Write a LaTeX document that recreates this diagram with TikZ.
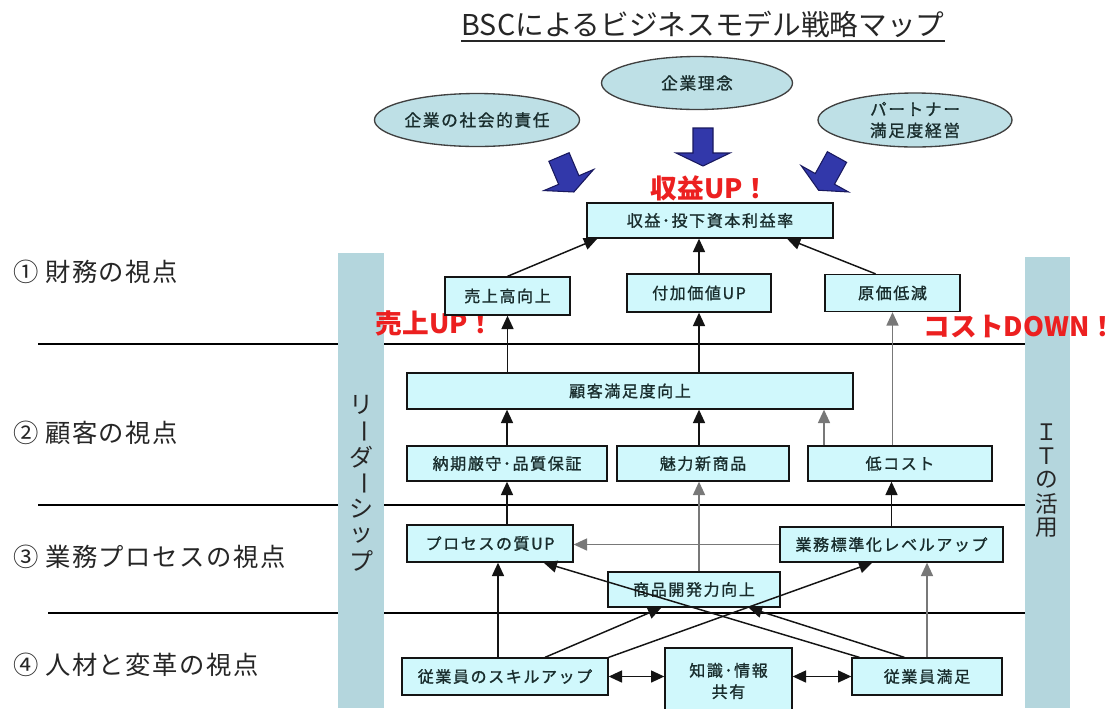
\documentclass[tikz,border=0pt]{standalone}
\usepackage{fontspec}
\setmainfont{Noto Sans CJK JP}
\newfontfamily\jpbox[LetterSpace=10,FakeBold=1.2]{Noto Sans CJK JP}
\newfontfamily\jplab[LetterSpace=6]{Noto Sans CJK JP}
\usetikzlibrary{arrows.meta,calc,shapes.geometric}
\definecolor{boxfill}{RGB}{208,248,252}
\definecolor{bandc}{RGB}{180,214,221}
\definecolor{ellfill}{RGB}{190,224,230}
\definecolor{redlab}{RGB}{236,32,32}
\definecolor{blk}{RGB}{20,20,20}
\definecolor{txt}{RGB}{25,45,45}
\definecolor{grayarr}{RGB}{120,120,120}
\definecolor{arrowblue}{RGB}{50,56,170}
\definecolor{arrowdark}{RGB}{25,25,95}
\begin{document}
\begin{tikzpicture}[x=0.75pt,y=-0.75pt,
  bx/.style 2 args={draw=blk, fill=boxfill, line width=1pt, minimum width=#1*0.75pt,
    minimum height=#2*0.75pt, inner sep=0pt, align=center, text=txt,
    font=\jpbox\fontsize{12}{16}\selectfont},
  ellnode/.style 2 args={ellipse, draw=black!75, fill=ellfill, line width=1pt,
    minimum width=#1*0.75pt, minimum height=#2*0.75pt, inner sep=0pt, align=center,
    text=txt, font=\jpbox\fontsize{12.5}{16}\selectfont},
  tip/.style={Triangle[length=10pt,width=9pt]},
  arr/.style={-{Triangle[length=10pt,width=9pt]}, draw=blk, line width=1.1pt},
  garr/.style={arr, draw=grayarr},
  dbl/.style={{Triangle[length=10pt,width=9pt]}-{Triangle[length=10pt,width=9pt]}, draw=blk, line width=1.1pt},
  redl/.style={text=redlab, inner sep=0pt, font=\bfseries\fontsize{20}{22}\selectfont},
  persp/.style={anchor=west, inner sep=0pt, text=black!85, font=\jplab\fontsize{19}{22}\selectfont},
  vch/.style={inner sep=0pt, text=black!85, font=\fontsize{18}{18}\selectfont},
  sectline/.style={draw=black, line width=1.2pt},
  band/.style={fill=bandc, draw=none},
  blockarrow/.style={fill=arrowblue, draw=arrowdark, line width=0.8pt}
]
\useasboundingbox (0,0) rectangle (1116,708);
\fill[white] (0,0) rectangle (1116,708);

% title
\node[inner sep=0pt, text=black!85, font=\fontsize{21.5}{24}\selectfont] (title) at (703,24) {BSCによるビジネスモデル戦略マップ};
\coordinate (ul) at (0,41);
\draw[line width=1.1pt, black!85] (title.west |- ul) -- (title.east |- ul);

% section lines
\draw[sectline] (38,344) -- (1025,344);
\draw[sectline] (38,505) -- (1025,505);
\draw[sectline] (48,613) -- (1025,613);

% bands
\fill[band] (338,253) rectangle (384,708);
\fill[band] (1025,257) rectangle (1070,708);
\foreach \c [count=\i from 0] in {リ,{\rotatebox[origin=c]{-90}{ー}},ダ,{\rotatebox[origin=c]{-90}{ー}},シ,ッ,プ}
  \node[vch] (lead\i) at (361,405+26*\i) {\c};
\foreach \c [count=\i from 0] in {Ｉ,Ｔ,の,活,用}
  \node[vch, font=\fontsize{17}{17}\selectfont] (it\i) at (1047,432+24*\i) {\c};

% perspective labels
\node[persp] (p1) at (13,272) {①\hspace{5pt}財務の視点};
\node[persp] (p2) at (13,433) {②\hspace{5pt}顧客の視点};
\node[persp] (p3) at (13,557) {③\hspace{5pt}業務プロセスの視点};
\node[persp] (p4) at (13,665) {④\hspace{5pt}人材と変革の視点};

% ellipses
\node[ellnode={192}{53}] (e1) at (477,120) {企業の社会的責任};
\node[ellnode={191}{53}] (e2) at (697,83) {企業理念};
\node[ellnode={194}{54}] (e3) at (915,120) {パートナー\\満足度経営};

% block arrows
\begin{scope}[shift={(703,128)}]
  \filldraw[blockarrow] (-10,0) -- (10,0) -- (10,25) -- (27,25) -- (0,38) -- (-27,25) -- (-10,25) -- cycle;
\end{scope}
\begin{scope}[shift={(559,157)},rotate=23]
  \filldraw[blockarrow] (-11,0) -- (11,0) -- (11,25) -- (27,25) -- (0,38) -- (-27,25) -- (-11,25) -- cycle;
\end{scope}
\begin{scope}[shift={(837,157)},rotate=-29]
  \filldraw[blockarrow] (-11,0) -- (11,0) -- (11,25) -- (27,25) -- (0,38) -- (-27,25) -- (-11,25) -- cycle;
\end{scope}

% red labels
\node[redl] (r1) at (710,188) {収益UP！};
\node[redl] (r2) at (435,323) {売上UP！};
\node[redl] (r3) at (1020,327) {コストDOWN！};

% boxes
\node[bx={246}{35}] (roi) at (710,220.5) {収益･投下資本利益率};
\node[bx={125}{38}] (sales) at (507.5,296) {売上高向上};
\node[bx={144}{38}] (value) at (699,293) {付加価値UP};
\node[bx={135}{37}] (cost) at (892.5,293) {原価低減};
\node[bx={446}{36}] (cs) at (630,391) {顧客満足度向上};
\node[bx={200}{35}] (deliv) at (507,463.5) {納期厳守･品質保証};
\node[bx={172}{35}] (attr) at (703,463.5) {魅力新商品};
\node[bx={184}{35}] (lowc) at (900,463.5) {低コスト};
\node[bx={166}{37}] (procq) at (490,543.5) {プロセスの質UP};
\node[bx={223}{35}] (std) at (891.5,544.5) {業務標準化レベルアップ};
\node[bx={172}{35}] (dev) at (694,589.5) {商品開発力向上};
\node[bx={206}{37}] (skill) at (505,676.5) {従業員のスキルアップ};
\node[bx={127}{66}] (know) at (728.5,681) {知識･情報\\共有};
\node[bx={150}{37}] (sat) at (927,676.5) {従業員満足};

% connectors: financial
\draw[arr] (sales.north) -- ($(roi.south west)+(11,0)$);
\draw[arr] (value.north) -- (value.north |- roi.south);
\draw[arr] ($(cost.north)+(-17,0)$) -- ($(roi.south)+(77,0)$);
% customer -> financial
\draw[arr] (sales.south |- cs.north) -- (sales.south);
\draw[arr] (value.south |- cs.north) -- (value.south);
\draw[garr] (cost.south |- lowc.north) -- (cost.south);
% customer
\draw[arr] (deliv.north) -- (deliv.north |- cs.south);
\draw[arr] (value |- attr.north) -- (value |- cs.south);
\draw[garr] ($(lowc.north)+(-76,0)$) -- ($(lowc.north |- cs.south)+(-76,0)$);
% process -> customer
\draw[arr] (deliv.south |- procq.north) -- (deliv.south);
\draw[garr] (value |- dev.north) -- (value |- attr.south);
\draw[arr] (std.north) -- (std.north |- lowc.south);
\draw[garr] (std.west) -- (std.west -| procq.east);
% learning -> process
\draw[arr] ($(procq.south |- skill.north)+(8,0)$) -- ($(procq.south)+(8,0)$);
\draw[garr] (sat.north) -- (sat.north |- std.south);
\draw[arr] ($(skill.north)+(40,0)$) -- ($(dev.south west)+(54,0)$);
\draw[arr] (skill.north east) -- ($(std.south west)+(93,0)$);
\draw[arr] ($(sat.north west)+(8,0)$) -- ($(procq.south east)+(-30,0)$);
\draw[arr] ($(sat.north west)+(53,0)$) -- ($(dev.south east)+(-32,0)$);
% learning
\draw[dbl] (skill.east) -- (skill.east -| know.west);
\draw[dbl] (sat.west -| know.east) -- (sat.west);
\end{tikzpicture}
\end{document}
